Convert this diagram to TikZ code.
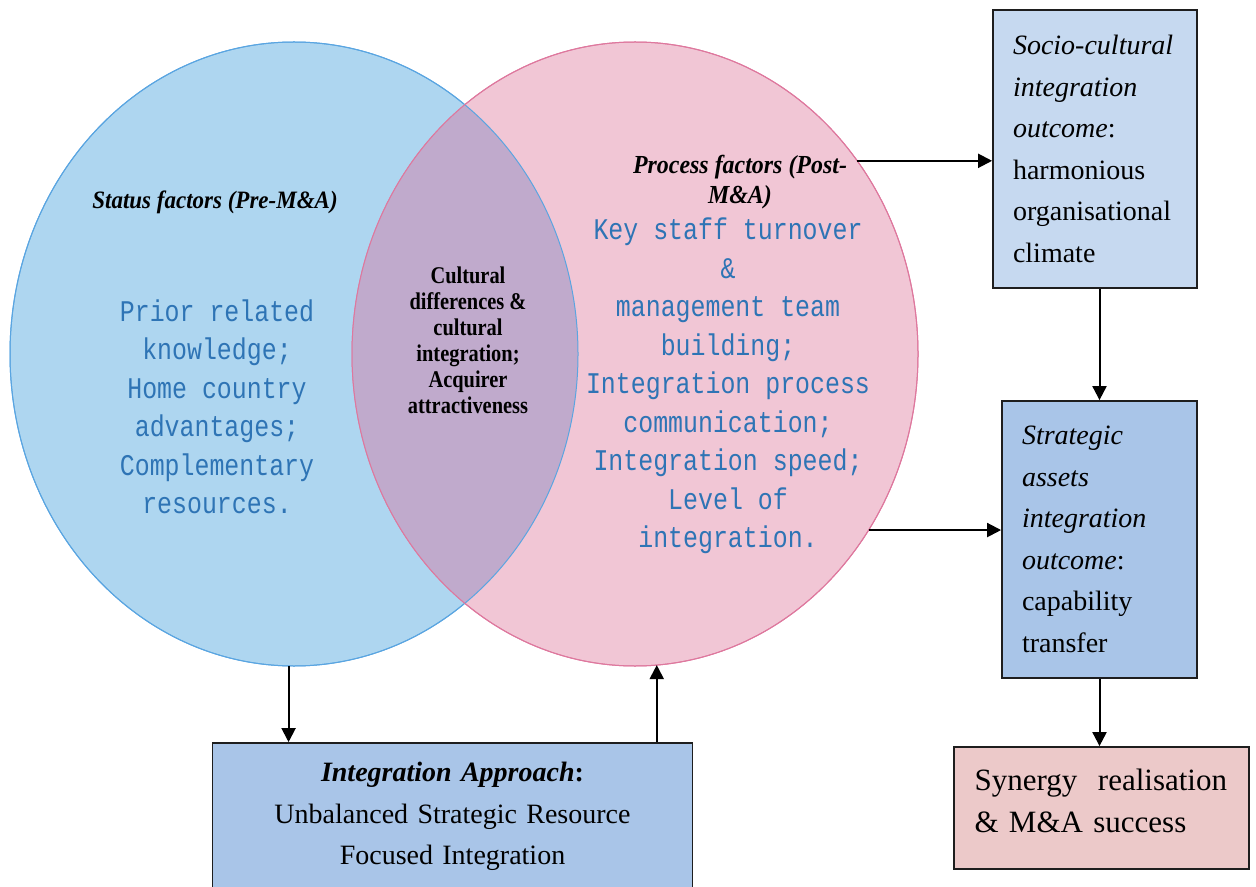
\documentclass[tikz,border=0pt]{standalone}
\usepackage{fontspec}
\setmainfont{Liberation Serif}
\newfontfamily\listfont[FakeStretch=0.83]{Liberation Mono}
\newfontfamily\headfont[FakeStretch=0.92]{Liberation Serif}
\newfontfamily\midfont[FakeStretch=0.85]{Liberation Serif}
\usepackage{tikz}
\usetikzlibrary{positioning,arrows.meta,shapes.geometric}
\usepackage{xcolor}
\definecolor{statusfill}{RGB}{174,214,240}
\definecolor{statusline}{RGB}{90,165,225}
\definecolor{processfill}{RGB}{241,198,213}
\definecolor{processline}{RGB}{222,120,158}
\definecolor{overlapfill}{RGB}{192,170,204}
\definecolor{listblue}{RGB}{46,116,181}
\definecolor{sociofill}{RGB}{198,217,240}
\definecolor{assetfill}{RGB}{169,197,232}
\definecolor{synergyfill}{RGB}{236,201,201}
\definecolor{boxline}{RGB}{30,30,30}

\begin{document}
\begin{tikzpicture}[x=0.5pt,y=-0.5pt,>={Triangle[length=7pt,width=7pt]},
  venn/.style={ellipse,minimum width=283pt,minimum height=312pt,inner sep=0pt,outer sep=0pt,line width=0.5pt},
  bluelist/.style={text=listblue,align=center,font=\listfont\fontsize{15}{19.25}\selectfont},
  outbox/.style={draw=boxline,line width=0.9pt,inner xsep=10pt,inner ysep=0pt,font=\fontsize{14}{20.75}\selectfont},
  link/.style={->,line width=1pt}]
\useasboundingbox (0,0) rectangle (1256,887);

% the two circles and their overlap
\node[venn,fill=statusfill,draw=statusline,minimum width=284pt] (status) at (294,354) {};
\node[venn,fill=processfill,draw=processline] (process) at (635,354) {};
\begin{scope}
  \clip (status.center) ellipse [x radius=142pt,y radius=156pt];
  \fill[overlapfill] (process.center) ellipse [x radius=141.5pt,y radius=156pt];
\end{scope}
\draw[statusline,line width=0.5pt] (status.center) ellipse [x radius=142pt,y radius=156pt];
\draw[processline,line width=0.5pt] (process.center) ellipse [x radius=141.5pt,y radius=156pt];

\node[font=\headfont\bfseries\itshape\fontsize{12.5}{15}\selectfont] (statushead) at (215,202) {Status factors (Pre-M\&A)};
\node[bluelist] (priorlist) at (217,407) {Prior related\\knowledge;\\Home country\\advantages;\\Complementary\\resources.};

\node[align=center,font=\midfont\bfseries\fontsize{12}{13}\selectfont] (overlaptext) at (468,340) {Cultural\\differences \&\\cultural\\integration;\\Acquirer\\attractiveness};

\node[align=center,font=\headfont\bfseries\itshape\fontsize{13}{15}\selectfont] (processhead) at (740,182) {Process factors (Post-\\M\&A)};
\node[bluelist] (processlist) at (728,386) {Key staff turnover\\\&\\management team\\building;\\Integration process\\communication;\\Integration speed;\\Level of\\integration.};

% outcome boxes
\node[outbox,fill=sociofill,align=left,text width=82pt,minimum height=139pt] (socio) at (1095,149)
  {\textit{Socio-cultural}\\\textit{integration}\\\textit{outcome}:\\harmonious\\organisational\\climate};
\node[outbox,fill=assetfill,align=left,text width=77.5pt,minimum height=138.5pt] (strategic) at (1099.5,539.5)
  {\textit{Strategic}\\\textit{assets}\\\textit{integration}\\\textit{outcome}:\\capability\\transfer};
\node[outbox,fill=synergyfill,align=left,text width=127pt,inner xsep=10.25pt,minimum height=61pt,text depth=28pt,font=\fontsize{15.5}{21}\selectfont] (synergy) at (1101.5,808)
  {Synergy\ \ realisation\\\& M\&A success};
\node[outbox,fill=assetfill,align=center,text width=220pt,minimum height=73.5pt] (approach) at (452.5,816.5)
  {\textbf{\textit{Integration Approach}:}\\Unbalanced Strategic Resource\\Focused Integration};

% connectors
\draw[link] (process.41.7) -- (process.41.7 -| socio.west);
\draw[link] (process.-37.5) -- (process.-37.5 -| strategic.west);
\draw[link] (strategic.north |- socio.south) -- (strategic.north);
\draw[link] (strategic.south) -- (strategic.south |- synergy.north);
\draw[link] (status.-91.4) -- (status.-91.4 |- approach.north);
\draw[link] (process.-86.5 |- approach.north) -- (process.-86.5);
\end{tikzpicture}
\end{document}
